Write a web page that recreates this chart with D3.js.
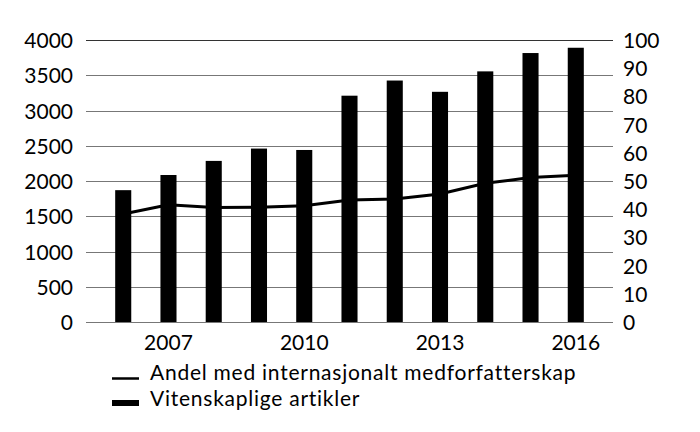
<!DOCTYPE html>
<html>
<head>
<meta charset="utf-8">
<script src="https://cdn.jsdelivr.net/npm/d3@7"></script>
<style>
  body { margin: 0; background: #fff; }
  text { font-family: Lato, "Open Sans", sans-serif; fill: #000; }
</style>
</head>
<body>
<div id="chart"></div>
<script>
// data
let years = [2006, 2007, 2008, 2009, 2010, 2011, 2012, 2013, 2014, 2015, 2016];
let articles = [1870, 2085, 2285, 2460, 2440, 3210, 3425, 3265, 3555, 3815, 3890];
let shareIntl = [38.3, 41.6, 40.6, 40.7, 41.2, 43.3, 43.6, 45.4, 49.2, 51.2, 52.0];
let leftTicks = [0, 500, 1000, 1500, 2000, 2500, 3000, 3500, 4000];
let rightTicks = [0, 10, 20, 30, 40, 50, 60, 70, 80, 90, 100];
let labelYears = [2007, 2010, 2013, 2016];
let legendNames = ["Andel med internasjonalt medforfatterskap", "Vitenskaplige artikler"];

let width = 700, height = 432,
    margin = {top: 40, right: 87, bottom: 110, left: 86};
let fontSize = "21px";

let svg = d3.select("#chart").append("svg")
    .attr("width", width)
    .attr("height", height);

let x = d3.scaleBand()
    .domain(years)
    .range([margin.left, width - margin.right])
    .padding(0.645);

let yLeft = d3.scaleLinear()
    .domain([0, 4000])
    .range([height - margin.bottom, margin.top]);

let yRight = d3.scaleLinear()
    .domain([0, 100])
    .range([height - margin.bottom, margin.top]);

// gridlines
svg.append("g")
    .selectAll("line")
    .data(leftTicks)
    .enter().append("line")
    .attr("x1", margin.left)
    .attr("x2", width - margin.right)
    .attr("y1", d => Math.round(yLeft(d)) + 0.5)
    .attr("y2", d => Math.round(yLeft(d)) + 0.5)
    .attr("stroke", d => d === 4000 ? "#333" : "#777")
    .attr("stroke-width", 1);

// line sits behind the bars
let line = d3.line()
    .x((d, i) => x(years[i]) + x.bandwidth() / 2)
    .y(d => yRight(d));

svg.append("path")
    .datum(shareIntl)
    .attr("d", line)
    .attr("fill", "none")
    .attr("stroke", "#000")
    .attr("stroke-width", 3);

svg.append("g")
    .selectAll("rect")
    .data(articles)
    .enter().append("rect")
    .attr("x", (d, i) => x(years[i]))
    .attr("width", x.bandwidth())
    .attr("y", d => yLeft(d))
    .attr("height", d => yLeft(0) - yLeft(d))
    .attr("fill", "#000");

// left axis
let axisLeft = svg.append("g")
    .attr("transform", "translate(" + (margin.left - 13) + ",0)")
    .call(d3.axisLeft(yLeft).tickValues(leftTicks).tickFormat(d3.format("d")).tickSize(0).tickPadding(0));
axisLeft.select(".domain").remove();
axisLeft.selectAll("text").style("font-size", fontSize).attr("dy", "0.36em");

// right axis
let axisRight = svg.append("g")
    .attr("transform", "translate(" + (width - margin.right + 10) + ",0)")
    .call(d3.axisRight(yRight).tickValues(rightTicks).tickFormat(d3.format("d")).tickSize(0).tickPadding(0));
axisRight.select(".domain").remove();
axisRight.selectAll("text").style("font-size", fontSize).attr("dy", "0.36em");

// bottom axis
let axisBottom = svg.append("g")
    .attr("transform", "translate(0," + (height - margin.bottom) + ")")
    .call(d3.axisBottom(x).tickValues(labelYears).tickSize(0));
axisBottom.select(".domain").remove();
axisBottom.selectAll("text").style("font-size", fontSize).attr("y", 28).attr("dy", 0);

// legend
let legend = svg.append("g")
    .attr("transform", "translate(112,0)");

legend.append("line")
    .attr("x1", 0).attr("x2", 27)
    .attr("y1", 378.5).attr("y2", 378.5)
    .attr("stroke", "#000")
    .attr("stroke-width", 2.5);

legend.append("rect")
    .attr("x", 0).attr("width", 27)
    .attr("y", 400).attr("height", 6)
    .attr("fill", "#000");

legend.selectAll("text.lg")
    .data(legendNames)
    .enter().append("text")
    .attr("class", "lg")
    .attr("x", 38)
    .attr("y", (d, i) => 380 + i * 26)
    .style("font-size", fontSize)
    .style("letter-spacing", "0.75px")
    .text(d => d);
</script>
</body>
</html>
